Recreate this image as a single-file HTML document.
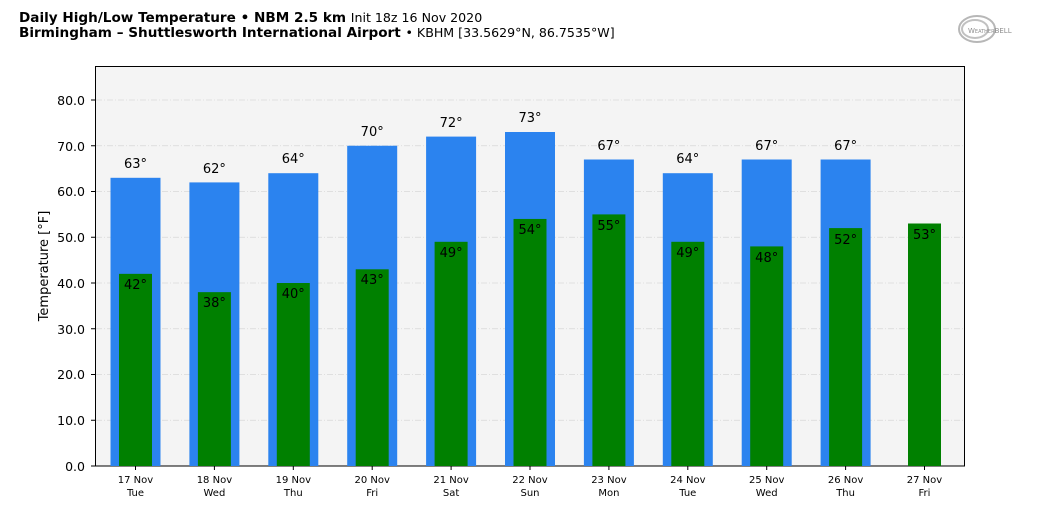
<!DOCTYPE html>
<html><head><meta charset="utf-8"><style>
body{margin:0;background:#fff;}
svg text{font-family:"DejaVu Sans","Liberation Sans",sans-serif;}
</style></head><body>
<svg width="1040" height="516" viewBox="0 0 1040 516" xmlns="http://www.w3.org/2000/svg">
<rect width="1040" height="516" fill="#fff"/>
<text x="19" y="22" font-size="13.6" font-weight="bold">Daily High/Low Temperature • NBM 2.5 km <tspan font-weight="normal" font-size="12.6">Init 18z 16 Nov 2020</tspan></text>
<text x="19" y="37" font-size="13.6" font-weight="bold">Birmingham – Shuttlesworth International Airport <tspan font-weight="normal" font-size="12.6">• KBHM [33.5629°N, 86.7535°W]</tspan></text>
<g opacity="0.6">
<ellipse cx="977" cy="29" rx="18" ry="13" fill="none" stroke="#888" stroke-width="2"/>
<ellipse cx="975" cy="29" rx="13" ry="9" fill="none" stroke="#999" stroke-width="2"/>
<text x="968" y="33" font-size="7" fill="#444" font-family="Liberation Serif,serif">W<tspan font-size="5">EATHER</tspan>BELL</text>
</g>
<rect x="95.5" y="66.5" width="869" height="399.5" fill="#f4f4f4" stroke="#000" stroke-width="1"/>
<g stroke="#d8d8d8" stroke-dasharray="6,2,1,2" stroke-width="0.8">
<line x1="96" x2="964" y1="420.25" y2="420.25"/><line x1="96" x2="964" y1="374.5" y2="374.5"/>
<line x1="96" x2="964" y1="328.75" y2="328.75"/><line x1="96" x2="964" y1="283" y2="283"/>
<line x1="96" x2="964" y1="237.25" y2="237.25"/><line x1="96" x2="964" y1="191.5" y2="191.5"/>
<line x1="96" x2="964" y1="145.75" y2="145.75"/><line x1="96" x2="964" y1="100" y2="100"/>
</g>
<g fill="#2b83ef">
<rect x="110.5" y="177.8" width="50" height="288.2"/>
<rect x="189.4" y="182.4" width="50" height="283.6"/>
<rect x="268.3" y="173.2" width="50" height="292.8"/>
<rect x="347.2" y="145.75" width="50" height="320.25"/>
<rect x="426.1" y="136.6" width="50" height="329.4"/>
<rect x="505" y="132" width="50" height="334"/>
<rect x="583.9" y="159.5" width="50" height="306.5"/>
<rect x="662.8" y="173.2" width="50" height="292.8"/>
<rect x="741.7" y="159.5" width="50" height="306.5"/>
<rect x="820.6" y="159.5" width="50" height="306.5"/>
</g>
<g fill="#008000">
<rect x="119" y="273.85" width="33" height="192.15"/>
<rect x="197.9" y="292.15" width="33" height="173.85"/>
<rect x="276.8" y="283" width="33" height="183"/>
<rect x="355.7" y="269.3" width="33" height="196.7"/>
<rect x="434.6" y="241.8" width="33" height="224.2"/>
<rect x="513.5" y="218.95" width="33" height="247.05"/>
<rect x="592.4" y="214.4" width="33" height="251.6"/>
<rect x="671.3" y="241.8" width="33" height="224.2"/>
<rect x="750.2" y="246.4" width="33" height="219.6"/>
<rect x="829.1" y="228.1" width="33" height="237.9"/>
<rect x="908" y="223.5" width="33" height="242.5"/>
</g>
<g font-size="13" text-anchor="middle" fill="#000">
<text x="135.5" y="168">63°</text><text x="214.4" y="173">62°</text><text x="293.3" y="163">64°</text>
<text x="372.2" y="136">70°</text><text x="451.1" y="127">72°</text><text x="530" y="122">73°</text>
<text x="608.9" y="150">67°</text><text x="687.8" y="163">64°</text><text x="766.7" y="150">67°</text>
<text x="845.6" y="150">67°</text>
<text x="135.5" y="289">42°</text><text x="214.4" y="307">38°</text><text x="293.3" y="298">40°</text>
<text x="372.2" y="284">43°</text><text x="451.1" y="257">49°</text><text x="530" y="234">54°</text>
<text x="608.9" y="230">55°</text><text x="687.8" y="257">49°</text><text x="766.7" y="262">48°</text>
<text x="845.6" y="244">52°</text><text x="924.5" y="239">53°</text>
</g>
<g font-size="12.5" text-anchor="end">
<text x="85" y="471">0.0</text><text x="85" y="425">10.0</text><text x="85" y="379">20.0</text>
<text x="85" y="334">30.0</text><text x="85" y="288">40.0</text><text x="85" y="242">50.0</text>
<text x="85" y="196">60.0</text><text x="85" y="151">70.0</text><text x="85" y="105">80.0</text>
</g>
<g stroke="#000"><line x1="91" x2="95" y1="466" y2="466"/><line x1="91" x2="95" y1="420.25" y2="420.25"/><line x1="91" x2="95" y1="374.5" y2="374.5"/><line x1="91" x2="95" y1="328.75" y2="328.75"/><line x1="91" x2="95" y1="283" y2="283"/><line x1="91" x2="95" y1="237.25" y2="237.25"/><line x1="91" x2="95" y1="191.5" y2="191.5"/><line x1="91" x2="95" y1="145.75" y2="145.75"/><line x1="91" x2="95" y1="100" y2="100"/>
<line x1="135.5" x2="135.5" y1="466" y2="470"/><line x1="214.4" x2="214.4" y1="466" y2="470"/><line x1="293.3" x2="293.3" y1="466" y2="470"/><line x1="372.2" x2="372.2" y1="466" y2="470"/><line x1="451.1" x2="451.1" y1="466" y2="470"/><line x1="530" x2="530" y1="466" y2="470"/><line x1="608.9" x2="608.9" y1="466" y2="470"/><line x1="687.8" x2="687.8" y1="466" y2="470"/><line x1="766.7" x2="766.7" y1="466" y2="470"/><line x1="845.6" x2="845.6" y1="466" y2="470"/><line x1="924.5" x2="924.5" y1="466" y2="470"/></g>
<text transform="translate(48,266) rotate(-90)" font-size="13" text-anchor="middle">Temperature [°F]</text>
<g font-size="10" text-anchor="middle">
<text x="135.5" y="483">17 Nov</text><text x="135.5" y="496">Tue</text>
<text x="214.4" y="483">18 Nov</text><text x="214.4" y="496">Wed</text>
<text x="293.3" y="483">19 Nov</text><text x="293.3" y="496">Thu</text>
<text x="372.2" y="483">20 Nov</text><text x="372.2" y="496">Fri</text>
<text x="451.1" y="483">21 Nov</text><text x="451.1" y="496">Sat</text>
<text x="530" y="483">22 Nov</text><text x="530" y="496">Sun</text>
<text x="608.9" y="483">23 Nov</text><text x="608.9" y="496">Mon</text>
<text x="687.8" y="483">24 Nov</text><text x="687.8" y="496">Tue</text>
<text x="766.7" y="483">25 Nov</text><text x="766.7" y="496">Wed</text>
<text x="845.6" y="483">26 Nov</text><text x="845.6" y="496">Thu</text>
<text x="924.5" y="483">27 Nov</text><text x="924.5" y="496">Fri</text>
</g>
</svg>
</body></html>
